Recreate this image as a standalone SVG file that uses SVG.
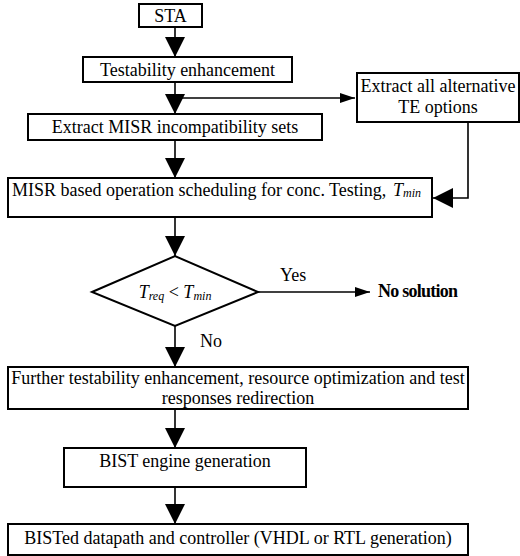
<svg xmlns="http://www.w3.org/2000/svg" width="520" height="556" viewBox="0 0 520 556">
<style>
text{font-family:"Liberation Serif","Times New Roman",serif;font-size:18px;fill:#000}
.box{fill:#fff;stroke:#000;stroke-width:2}
.ln{fill:none;stroke:#000;stroke-width:1.6}
.c{text-anchor:middle}
.it{font-style:italic}
.sub{font-size:12px;font-style:italic}
</style>
<defs>
<marker id="big" markerUnits="userSpaceOnUse" markerWidth="20" markerHeight="20" refX="20" refY="10" orient="auto" viewBox="0 0 20 20"><path d="M0,0 L20,10 L0,20 z" fill="#000"/></marker>
<marker id="small" markerUnits="userSpaceOnUse" markerWidth="15" markerHeight="10" refX="15" refY="5" orient="auto" viewBox="0 0 15 10"><path d="M0,0 L15,5 L0,10 z" fill="#000"/></marker>
</defs>
<g id="connectors">
<line class="ln" x1="175" y1="27" x2="175" y2="57" marker-end="url(#big)"/>
<line class="ln" x1="175" y1="82" x2="175" y2="114" marker-end="url(#big)"/>
<line class="ln" x1="175" y1="98" x2="355" y2="98" marker-end="url(#small)"/>
<line class="ln" x1="175" y1="140" x2="175" y2="178" marker-end="url(#big)"/>
<polyline class="ln" points="468,122 468,198 433,198" marker-end="url(#big)"/>
<line class="ln" x1="175" y1="217" x2="175" y2="256" marker-end="url(#big)"/>
<line class="ln" x1="258" y1="292" x2="370" y2="292" marker-end="url(#small)"/>
<line class="ln" x1="175" y1="326" x2="175" y2="367" marker-end="url(#big)"/>
<line class="ln" x1="175" y1="409" x2="175" y2="448" marker-end="url(#big)"/>
<line class="ln" x1="175" y1="487" x2="175" y2="524" marker-end="url(#big)"/>
<text x="280" y="281">Yes</text>
<text x="200" y="347">No</text>
</g>
<g id="sta"><rect class="box" x="139" y="4" width="63" height="23"/><text class="c" x="170.5" y="22" font-size="20">STA</text></g>
<g id="testability"><rect class="box" x="83" y="57" width="209" height="25"/><text class="c" x="187.5" y="76">Testability enhancement</text></g>
<g id="extract-all"><rect class="box" x="357" y="73" width="162" height="49"/><text class="c" x="438" y="92">Extract all alternative</text><text class="c" x="438" y="113">TE options</text></g>
<g id="extract-misr"><rect class="box" x="28" y="114" width="294" height="26"/><text class="c" x="175" y="133">Extract MISR incompatibility sets</text></g>
<g id="misr-sched"><rect class="box" x="8" y="178" width="424" height="39"/><text x="12" y="196">MISR based operation scheduling for conc. Testing,</text><text x="393" y="196" class="it">T<tspan class="sub" dy="1">min</tspan></text></g>
<g id="decision"><polygon class="box" points="92,292 175,256 258,292 175,326"/><text class="c it" x="175" y="298">T<tspan class="sub" dy="2">req</tspan><tspan dy="-2" font-style="normal"> &lt; </tspan>T<tspan class="sub" dy="2">min</tspan></text></g>
<g id="no-solution"><text x="378" y="297" font-weight="bold" font-size="15" textLength="80">No solution</text></g>
<g id="further"><rect class="box" x="8" y="367" width="460" height="42"/><text class="c" x="238" y="384" font-size="17.5">Further testability enhancement, resource optimization and test</text><text class="c" x="238" y="404" font-size="17.5">responses redirection</text></g>
<g id="bist-engine"><rect class="box" x="64" y="448" width="242" height="39"/><text class="c" x="185" y="467">BIST engine generation</text></g>
<g id="bisted"><rect class="box" x="8" y="524" width="460" height="31"/><text class="c" x="238" y="544">BISTed datapath and controller (VHDL or RTL generation)</text></g>
</svg>
